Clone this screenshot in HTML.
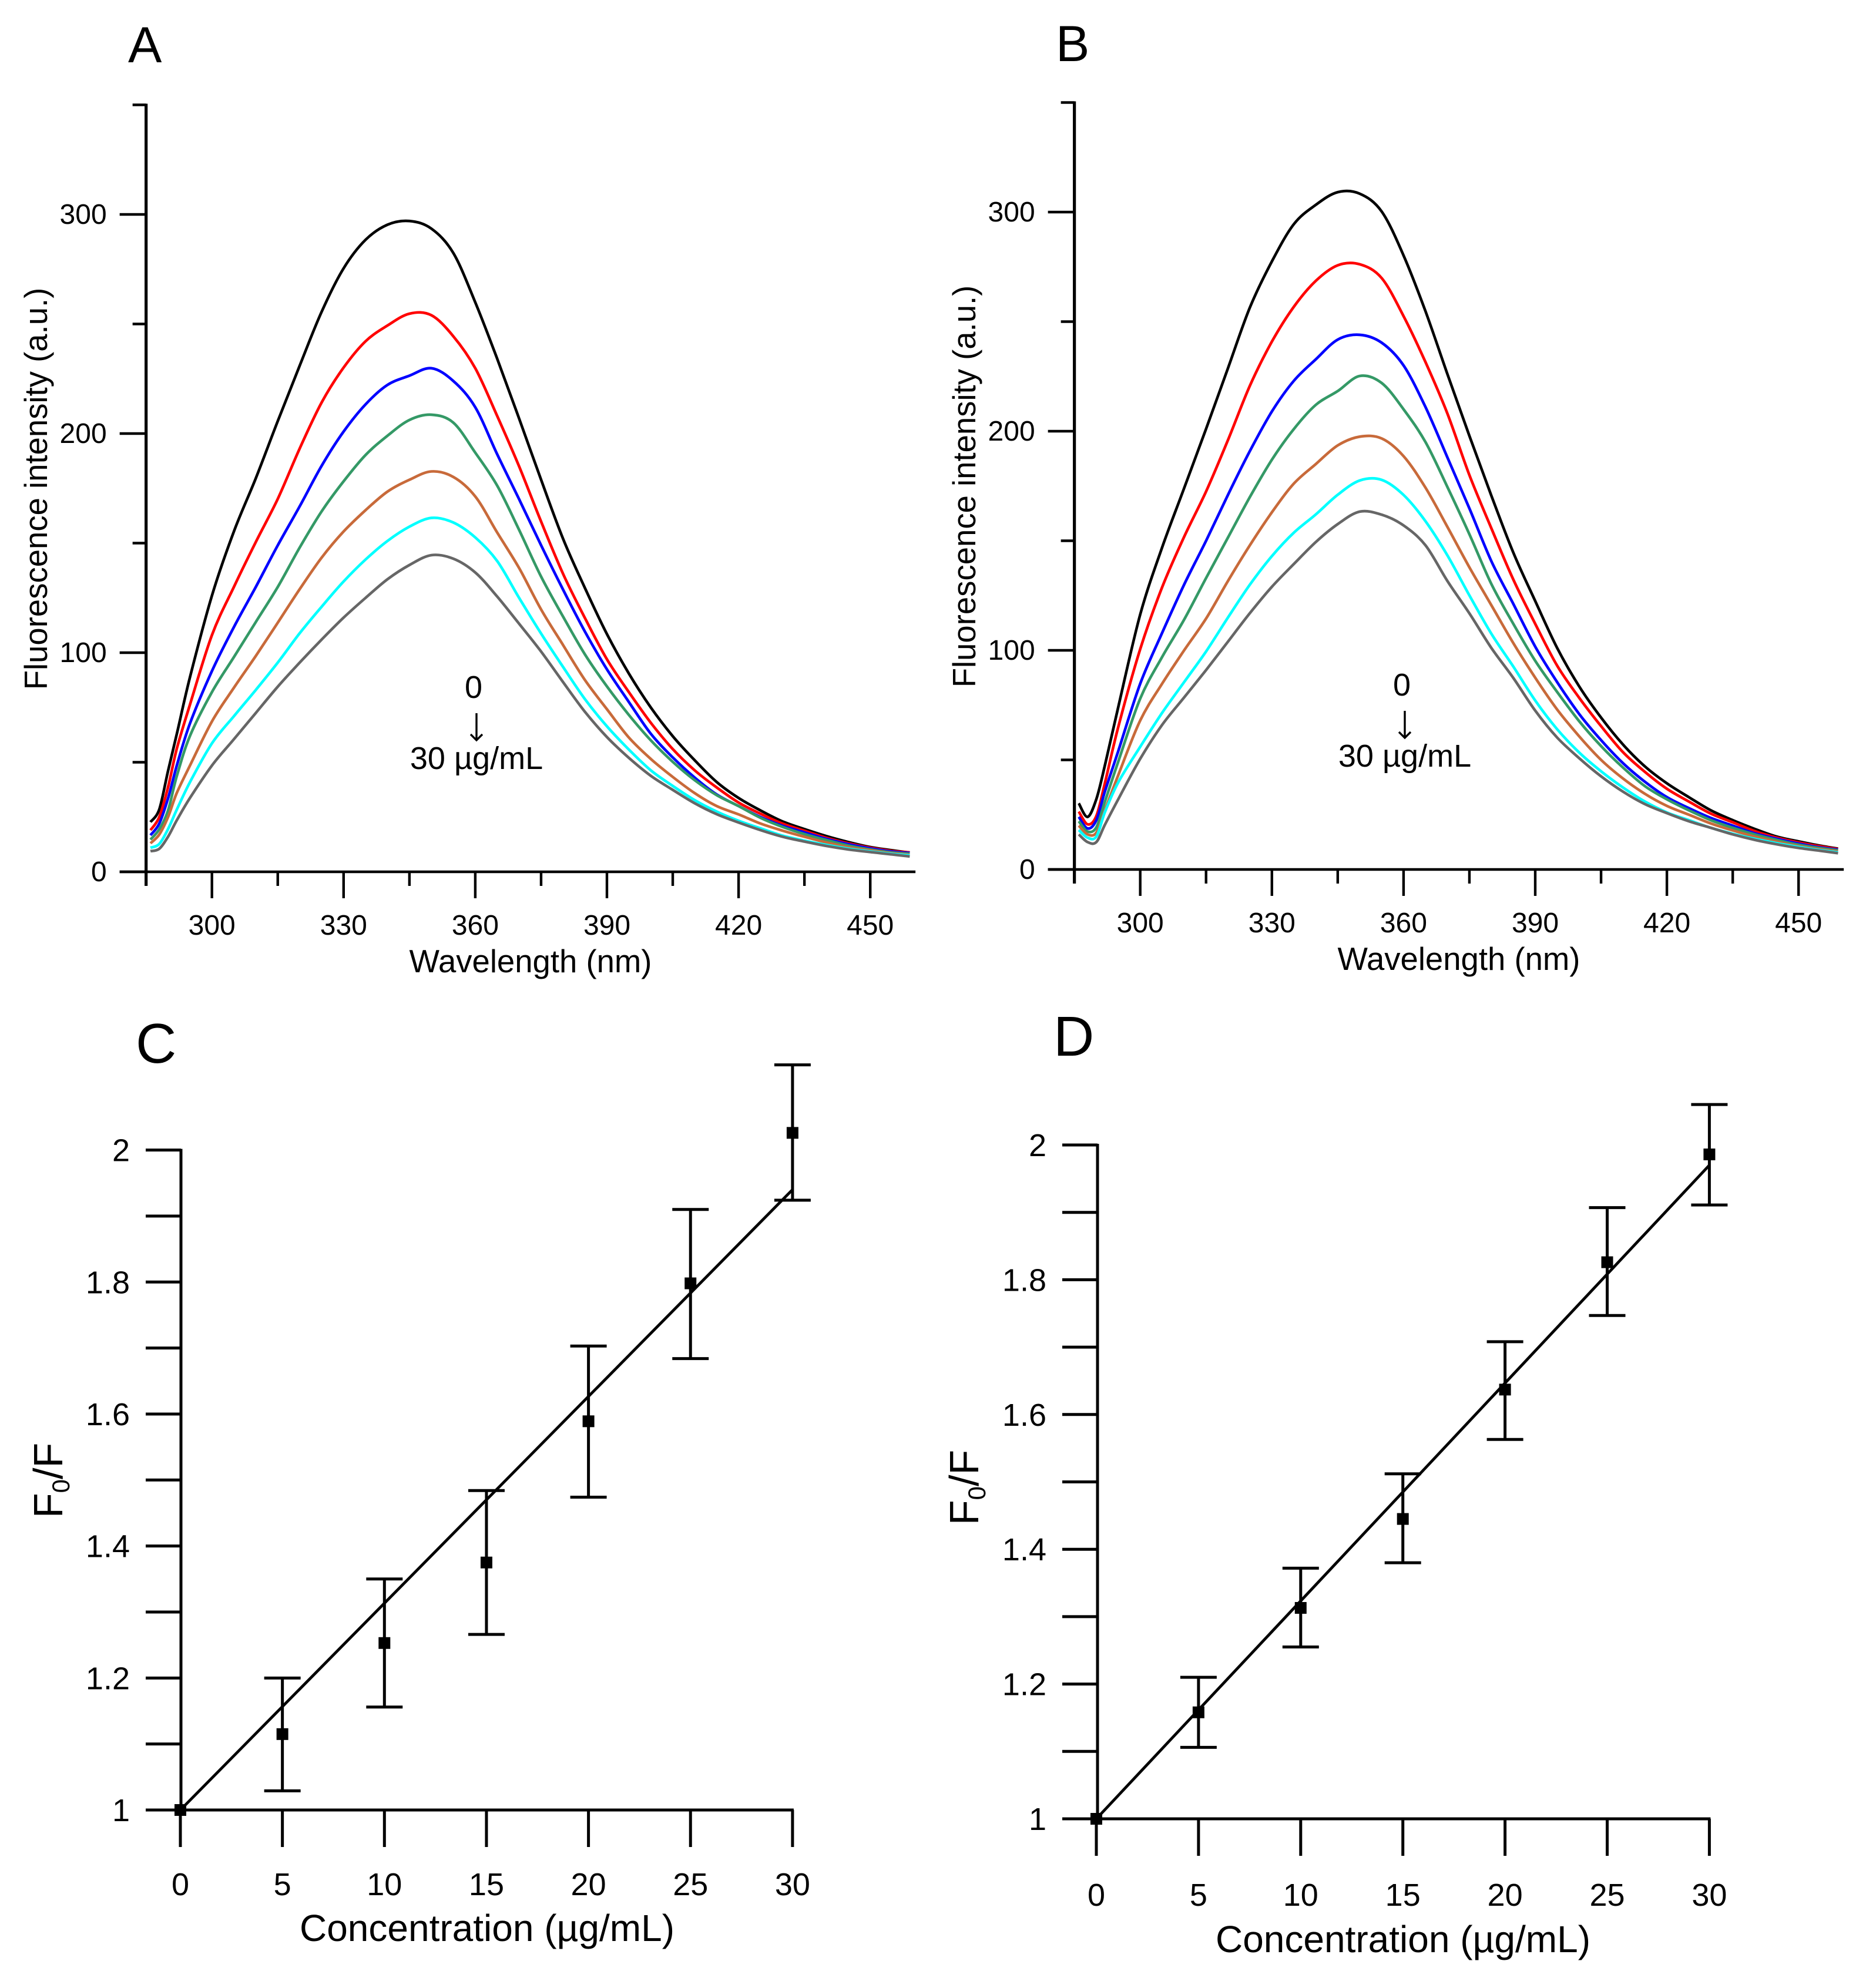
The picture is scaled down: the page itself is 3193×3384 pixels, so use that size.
<!DOCTYPE html>
<html lang="en">
<head>
<meta charset="utf-8">
<title>Fluorescence quenching spectra and Stern-Volmer plots</title>
<style>
  html, body { margin: 0; padding: 0; background: #fff; }
  svg { display: block; font-family: "Liberation Sans", Arial, sans-serif; }
  text { fill: #000; }
</style>
</head>
<body>
<svg id="figure" xmlns="http://www.w3.org/2000/svg" width="3193" height="3384" viewBox="0 0 3193 3384">
  <rect x="0" y="0" width="3193" height="3384" fill="#fff"/>

  <text x="218" y="106" font-size="86">A</text>
  <text x="1797" y="104" font-size="86">B</text>
  <text x="231" y="1809" font-size="96">C</text>
  <text x="1793" y="1797" font-size="96">D</text>

  <text transform="translate(80 832) rotate(-90)" text-anchor="middle" font-size="54.5">Fluorescence intensity (a.u.)</text>
  <text x="903" y="1655" text-anchor="middle" font-size="54.5">Wavelength (nm)</text>
  <text x="806" y="1188" text-anchor="middle" font-size="54">0</text>
  <g stroke="#000" stroke-width="3.4" fill="none">
    <path d="M811 1214V1260M801 1250L811 1260L821 1250"/>
  </g>
  <text x="811" y="1309" text-anchor="middle" font-size="54">30 µg/mL</text>

  <text transform="translate(1660 828) rotate(-90)" text-anchor="middle" font-size="54.5">Fluorescence intensity (a.u.)</text>
  <text x="2483" y="1651" text-anchor="middle" font-size="54.5">Wavelength (nm)</text>
  <text x="2386" y="1184" text-anchor="middle" font-size="54">0</text>
  <g stroke="#000" stroke-width="3.4" fill="none">
    <path d="M2391 1210V1256M2381 1246L2391 1256L2401 1246"/>
  </g>
  <text x="2391" y="1305" text-anchor="middle" font-size="54">30 µg/mL</text>

  <text transform="translate(106 2520) rotate(-90)" text-anchor="middle" font-size="70">F<tspan font-size="42" dy="12">0</tspan><tspan dy="-12">/F</tspan></text>
  <text x="829" y="3304" text-anchor="middle" font-size="64">Concentration (µg/mL)</text>

  <text transform="translate(1665 2532) rotate(-90)" text-anchor="middle" font-size="70">F<tspan font-size="42" dy="12">0</tspan><tspan dy="-12">/F</tspan></text>
  <text x="2388" y="3323" text-anchor="middle" font-size="64">Concentration (µg/mL)</text>
</svg>

<script>
// ---- Spectra data (panels A and B) ----
const wavelengths = [286,288,290,292,295,300,305,310,315,320,325,330,335,340,345,350,355,360,365,370,375,380,385,390,395,400,405,410,415,420,425,430,435,440,445,450,455,459];

const panelA0  = [22.7,28.5,46,62.9,88.8,126,155.3,179.6,205.7,231,255.6,275.4,288.4,295.3,297,293.5,282.4,259.9,234.1,206.8,178.9,152,129.5,108.5,90.5,75,61.9,50.9,41,33.7,28,23,19.5,16.3,13.6,11.3,9.8,8.8];
const panelA5  = [19,25,38.6,56.2,76.3,108,130,150.5,170.2,193.2,214.2,230.1,242.1,249.3,254.7,254,244.4,229.8,208,185,159.8,136,115.8,97,82,68,56,46.3,38.5,31.6,26.5,22,18.7,15.5,13,11,9.5,8.8];
const panelA10 = [16.7,22,33.5,48.5,67.7,91.6,111.7,130,149,166.8,185.3,200.9,213.3,222.2,226.4,229.8,224,212,190.5,170,149,128.8,109.6,92.4,77.5,63,52.2,43,35.3,30,25,21,18,15,12.6,10.7,9.2,8.6];
const panelA15 = [14.7,19.4,28,43.7,62,82,98,114,130,148,164.5,178.2,190.2,199,206.2,208.6,205,191.3,176.2,156,134.7,116.5,99.2,84.6,71.6,60,50.2,41.8,35,30,24.6,20.5,17.2,14.5,12,10.2,8.8,8.2];
const panelA20 = [13,17,25,36,48.5,68.6,84,98.5,113.7,129,143.4,155.3,165,173.5,178.9,182.7,180.2,171.3,154.8,138.6,119.7,103.5,87.5,74.2,61.3,51.5,43.3,35.9,30,26.2,22,18.8,16,13.4,11.3,9.8,8.5,7.8];
const panelA25 = [11,12.7,19.5,28.4,40.9,58.6,71,83,95.5,108.9,121,132.5,142.5,151,157.5,161.5,159.4,152.6,141.8,125,108.7,93.5,78.8,66.4,55.8,46.3,39.2,32.7,27.5,23.3,19.8,16.5,14.2,12.3,10.6,9.3,8.2,7.5];
const panelA30 = [9.4,10.5,16,23.5,33.7,48.5,60.5,72.5,84.5,95.5,106,116,125,133.5,140,144.5,142.9,136.6,125.6,113.2,100.5,86.6,73,61.5,52,43.8,37.4,31.3,26.3,22.5,19,16,13.8,11.8,10.2,9,7.9,7];

const panelB0  = [30.2,24,32.1,47.9,74.2,116.4,147,174,201.1,228.8,256.5,277.5,294.5,303.3,309.1,308.4,300.3,280.2,254.7,226,197.9,170.6,144.6,122.5,101.1,83.6,69.3,57,47,39.3,33,27,22.5,18.5,15,12.8,10.8,9.5];
const panelB5  = [26.4,20.6,24.4,39.8,65.1,100.6,128.8,151.8,172.5,196,220.8,240.9,256.8,268.6,275.7,276.2,269.9,252.5,231.5,208,180,155.7,132.3,112.1,93,78.4,65.4,53.5,44.5,36.8,31,25.5,21.5,17.5,14.5,12.3,10.5,9.3];
const panelB10 = [24,18.7,22.5,35.9,54.1,84.8,108,130,150,171,191,209,223,232.8,241.8,244,240.4,230,211,188,164.8,140.7,121.2,101.7,85.5,71,59,48.5,40,33,28,23.5,20,16.5,14,11.8,10,9];
const panelB15 = [22,17.3,19.2,31.2,49.3,78,97,114,133,151.5,170,187,201,212,218.3,225.2,222,210,195,174.5,153,130.3,112.1,95.2,81,67.7,56.3,46.5,38,32,27,22.5,19,16,13.5,11.3,9.7,8.7];
const panelB20 = [20,16,16.8,27.3,43.1,68,84.8,100,114.5,131.7,148,163,176.1,185,193.5,197.5,196.7,188.6,174.2,156.3,137.9,120.6,103.3,87.5,73,60.8,50,41.5,34.5,29,25,21,17.8,15,12.7,10.7,9.2,8.2];
const panelB25 = [18,14.5,15,26.4,39.8,56,71.5,85.5,99.5,115,130,143,153.7,162,171,177.5,177.8,170.9,158.9,143.3,125.1,107.6,92.6,77.1,64,53.4,44.8,37.4,31,26,22.5,19,16.3,14,12,10.3,8.8,7.8];
const panelB30 = [16,12.5,12.5,20.6,32.1,50.5,66,78.5,91,104,117,129,139.4,149.4,157.6,163.3,161.9,157,147.9,131.6,116.9,101.1,87.4,72.5,60.2,50.8,42.5,35.5,29.8,25.7,22,19,16,13.5,11.5,9.8,8.5,7.4];

const seriesDoses = ["0","5","10","15","20","25","30"];
const seriesColors = ["#000000","#ff0000","#0000ff","#349966","#c86a3a","#00ffff","#666666"];
const wavelengthMajorTicks = [300,330,360,390,420,450];
const wavelengthMinorTicks = [285,315,345,375,405,435];
const intensityMajorTicks = [0,100,200,300];
const intensityMinorTicks = [50,150,250,350];

// ---- Stern-Volmer data (panels C and D) ----
const concentrations = [0,5,10,15,20,25,30];
const panelCMeans = [1,1.115,1.253,1.375,1.589,1.798,2.026];
const panelCUpper = [1,1.2,1.35,1.484,1.703,1.91,2.129];
const panelCLower = [1,1.029,1.156,1.266,1.474,1.684,1.924];
const panelCFit = [1,1.94];
const panelDMeans = [1,1.158,1.313,1.445,1.637,1.826,1.986];
const panelDUpper = [1,1.21,1.372,1.512,1.708,1.907,2.06];
const panelDLower = [1,1.106,1.255,1.38,1.563,1.747,1.911];
const panelDFit = [1,1.97];
const ratioMajorTicks = [1,1.2,1.4,1.6,1.8,2];
const ratioMinorTicks = [1.1,1.3,1.5,1.7,1.9];
const concentrationTicks = [0,5,10,15,20,25,30];

const SVGNS = "http://www.w3.org/2000/svg";
const figure = document.getElementById("figure");

function segment(parent, x1, y1, x2, y2, width, name) {
  const el = document.createElementNS(SVGNS, "line");
  el.setAttribute("x1", x1);
  el.setAttribute("y1", y1);
  el.setAttribute("x2", x2);
  el.setAttribute("y2", y2);
  el.setAttribute("stroke", "#000");
  el.setAttribute("stroke-width", width);
  
  
  parent.appendChild(el);
  return el;
}

function label(parent, x, y, str, size, anchor, name) {
  const el = document.createElementNS(SVGNS, "text");
  el.setAttribute("x", x);
  el.setAttribute("y", y);
  el.setAttribute("font-size", size);
  el.setAttribute("text-anchor", anchor);
  el.textContent = str;
  
  
  parent.appendChild(el);
  return el;
}

function group(name) {
  const el = document.createElementNS(SVGNS, "g");
  
  
  figure.appendChild(el);
  return el;
}

function smoothPath(pts) {
  let d = "M" + pts[0][0].toFixed(1) + " " + pts[0][1].toFixed(1);
  for (let i = 0; i < pts.length - 1; i++) {
    const p0 = pts[Math.max(i - 1, 0)];
    const p1 = pts[i];
    const p2 = pts[i + 1];
    const p3 = pts[Math.min(i + 2, pts.length - 1)];
    const c1x = p1[0] + (p2[0] - p0[0]) / 6;
    const c1y = p1[1] + (p2[1] - p0[1]) / 6;
    const c2x = p2[0] - (p3[0] - p1[0]) / 6;
    const c2y = p2[1] - (p3[1] - p1[1]) / 6;
    d += "C" + c1x.toFixed(1) + " " + c1y.toFixed(1) + " " + c2x.toFixed(1) + " " + c2y.toFixed(1) + " " + p2[0].toFixed(1) + " " + p2[1].toFixed(1);
  }
  return d;
}

function drawSpectra(prefix, dx, dy, allSeries) {
  const xScale = w => 360.7 + dx + 7.47 * (w - 300);
  const yScale = v => 1484 + dy - 3.73 * v;
  const axisX = xScale(285);
  const axisY = yScale(0);
  const root = group(prefix + "-spectra-chart");

  const curves = group(prefix + "-curves");
  root.appendChild(curves);
  allSeries.forEach(function (values, s) {
    const pts = wavelengths.map(function (w, i) { return [xScale(w), yScale(values[i])]; });
    const path = document.createElementNS(SVGNS, "path");
    path.setAttribute("d", smoothPath(pts));
    path.setAttribute("fill", "none");
    path.setAttribute("stroke", seriesColors[s]);
    path.setAttribute("stroke-width", "4.6");
    path.setAttribute("stroke-linejoin", "round");
    
    
    curves.appendChild(path);
  });

  const axes = group(prefix + "-axes");
  root.appendChild(axes);
  segment(axes, axisX, yScale(350) - 2, axisX, axisY + 24, 5.2, prefix + "-y-axis");
  segment(axes, axisX - 45, axisY, xScale(460.3), axisY, 4.4, prefix + "-x-axis");
  wavelengthMajorTicks.forEach(function (w) {
    segment(axes, xScale(w), axisY, xScale(w), axisY + 45, 4.4, prefix + "-x-tick-" + w);
    label(axes, xScale(w), axisY + 107, String(w), 48, "middle", prefix + "-x-tick-label-" + w);
  });
  wavelengthMinorTicks.forEach(function (w) {
    segment(axes, xScale(w), axisY, xScale(w), axisY + 24, 4.4, prefix + "-x-minor-tick-" + w);
  });
  intensityMajorTicks.forEach(function (v) {
    segment(axes, axisX, yScale(v), axisX - 45, yScale(v), 4.4, prefix + "-y-tick-" + v);
    label(axes, axisX - 67, yScale(v) + 16, String(v), 48, "end", prefix + "-y-tick-label-" + v);
  });
  intensityMinorTicks.forEach(function (v) {
    segment(axes, axisX, yScale(v), axisX - 23, yScale(v), 4.4, prefix + "-y-minor-tick-" + v);
  });
}

function drawRatioPlot(prefix, cfg, means, upper, lower, fit) {
  const xScale = c => cfg.x0 + cfg.pxPerUnit * c;
  const yScale = v => cfg.y1 - cfg.pxPerRatio * (v - 1);
  const root = group(prefix + "-ratio-chart");

  const axes = group(prefix + "-axes");
  root.appendChild(axes);
  segment(axes, cfg.axisX, yScale(2) - 2, cfg.axisX, cfg.y1, 5, prefix + "-y-axis");
  segment(axes, cfg.axisX - 60, cfg.y1, xScale(30) + 2, cfg.y1, 5, prefix + "-x-axis");
  concentrationTicks.forEach(function (c) {
    segment(axes, xScale(c), cfg.y1, xScale(c), cfg.y1 + 63, 5, prefix + "-x-tick-" + c);
    label(axes, xScale(c), cfg.xLabelY, String(c), 54, "middle", prefix + "-x-tick-label-" + c);
  });
  ratioMajorTicks.forEach(function (v) {
    segment(axes, cfg.axisX - 60, yScale(v), cfg.axisX, yScale(v), 5, prefix + "-y-tick-" + v);
    label(axes, cfg.axisX - 87, yScale(v) + 19, String(v), 54, "end", prefix + "-y-tick-label-" + v);
  });
  ratioMinorTicks.forEach(function (v) {
    segment(axes, cfg.axisX - 60, yScale(v), cfg.axisX, yScale(v), 5, prefix + "-y-minor-tick-" + v);
  });

  segment(root, xScale(0), yScale(fit[0]), xScale(30), yScale(fit[1]), 4.8, prefix + "-fit-line");

  concentrations.forEach(function (c, i) {
    const px = xScale(c);
    if (upper[i] !== lower[i]) {
      segment(root, px, yScale(upper[i]), px, yScale(lower[i]), 5, prefix + "-error-bar-" + c);
      segment(root, px - 31, yScale(upper[i]), px + 31, yScale(upper[i]), 5, prefix + "-error-cap-upper-" + c);
      segment(root, px - 31, yScale(lower[i]), px + 31, yScale(lower[i]), 5, prefix + "-error-cap-lower-" + c);
    }
    const marker = document.createElementNS(SVGNS, "rect");
    marker.setAttribute("x", px - 10);
    marker.setAttribute("y", yScale(means[i]) - 10);
    marker.setAttribute("width", 20);
    marker.setAttribute("height", 20);
    marker.setAttribute("fill", "#000");
    
    
    root.appendChild(marker);
  });
}

drawSpectra("panel-a", 0, 0, [panelA0, panelA5, panelA10, panelA15, panelA20, panelA25, panelA30]);
drawSpectra("panel-b", 1580, -4, [panelB0, panelB5, panelB10, panelB15, panelB20, panelB25, panelB30]);
drawRatioPlot("panel-c", { x0: 307, axisX: 308, pxPerUnit: 34.73, y1: 3081, pxPerRatio: 1123.4, xLabelY: 3226 }, panelCMeans, panelCUpper, panelCLower, panelCFit);
drawRatioPlot("panel-d", { x0: 1866, axisX: 1868, pxPerUnit: 34.78, y1: 3096, pxPerRatio: 1147, xLabelY: 3244 }, panelDMeans, panelDUpper, panelDLower, panelDFit);
</script>
</body>
</html>
